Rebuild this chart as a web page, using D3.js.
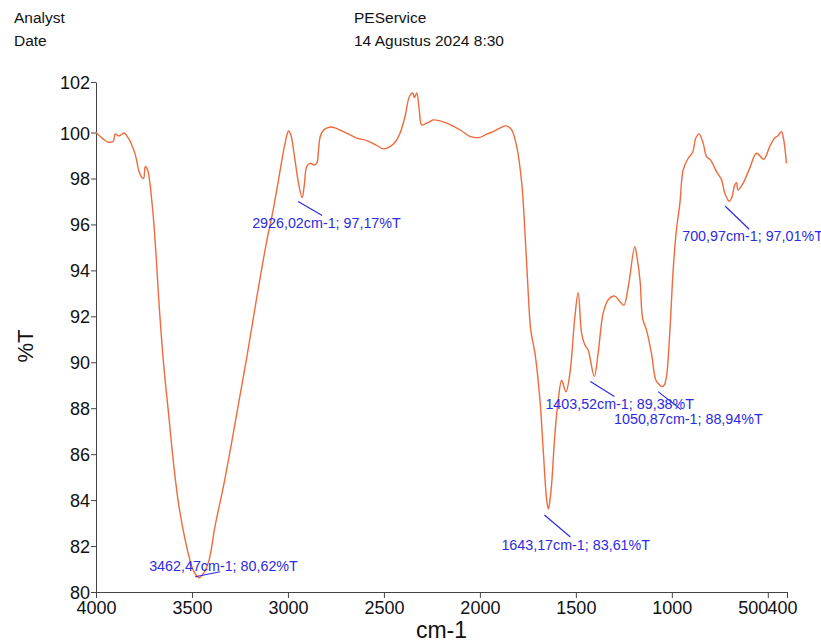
<!DOCTYPE html>
<html>
<head>
<meta charset="utf-8">
<script src="https://cdn.jsdelivr.net/npm/d3@7"></script>
<style>
  body { margin: 0; background: #fff; }
  svg { display: block; font-family: "Liberation Sans", Arial, sans-serif; }
</style>
</head>
<body>
<svg id="chart" width="821" height="642"></svg>
<script>
// header text
const headerLeft = ["Analyst", "Date"];
const headerRight = ["PEService", "14 Agustus 2024 8:30"];

// spectrum: wavenumber (cm-1) and %T
const wavenumbers = [
  4000, 3960, 3935, 3910, 3900, 3885, 3877, 3853, 3835, 3821, 3795, 3778, 3762, 3752, 3743, 3731,
  3708, 3696, 3685, 3674, 3648, 3622, 3596, 3570, 3535, 3500, 3480, 3462, 3445, 3414, 3379, 3336,
  3300, 3266, 3214, 3162, 3140, 3110, 3080, 3050, 3023, 3005, 2997, 2985, 2965, 2945, 2926, 2915,
  2902, 2884, 2864, 2850, 2840, 2832, 2815, 2798, 2772, 2740, 2711, 2641, 2589, 2540, 2503, 2468,
  2440, 2416, 2390, 2367, 2350, 2341, 2329, 2316, 2303, 2280, 2260, 2243, 2173, 2100, 2052, 2000,
  1965, 1930, 1869, 1850, 1834, 1808, 1782, 1765, 1748, 1735, 1713, 1687, 1670, 1652, 1643, 1635,
  1626, 1609, 1592, 1574, 1552, 1531, 1505, 1488, 1470, 1453, 1436, 1404, 1384, 1358, 1332, 1297,
  1271, 1250, 1227, 1193, 1180, 1165, 1152, 1132, 1106, 1083, 1062, 1051, 1040, 1028, 1010, 993,
  976, 958, 941, 915, 892, 875, 858, 837, 819, 799, 767, 741, 724, 701, 689, 672,
  663, 655, 629, 594, 559, 521, 490, 464, 447, 429, 417, 403
];
const transmittance = [
  100.0, 99.7, 99.58, 99.62, 99.94, 99.86, 99.86, 99.98, 99.8, 99.6, 99.03, 98.37, 98.05, 98.0, 98.52, 98.37,
  96.92, 95.76, 94.4, 92.85, 89.95, 87.77, 85.59, 83.85, 82.25, 81.09, 80.75, 80.62, 80.75, 81.3, 82.9, 84.6,
  86.2, 87.8, 90.24, 92.85, 93.9, 95.3, 96.5, 97.9, 99.2, 99.9, 100.07, 99.9, 98.9, 97.8, 97.17, 97.7,
  98.52, 98.66, 98.59, 98.66, 99.3, 99.82, 100.1, 100.19, 100.24, 100.15, 100.04, 99.76, 99.65, 99.45, 99.29, 99.39,
  99.6, 99.97, 100.7, 101.57, 101.72, 101.52, 101.72, 100.99, 100.33, 100.4, 100.48, 100.55, 100.41, 100.1, 99.83, 99.79,
  99.93, 100.04, 100.29, 100.25, 100.12, 99.39, 97.8, 95.62, 93.0, 91.4, 90.39, 88.35, 86.17, 84.0, 83.61, 84.0,
  84.72, 86.9, 88.35, 89.22, 88.71, 89.52, 91.98, 93.03, 91.26, 90.75, 90.53, 89.38, 90.39, 92.13, 92.71, 92.88,
  92.64, 92.49, 93.29, 95.03, 94.5, 93.5, 91.9, 91.4, 90.39, 89.22, 89.0, 88.94, 89.0, 89.37, 91.4, 94.02,
  95.76, 96.92, 98.37, 98.88, 99.13, 99.76, 99.94, 99.54, 98.95, 98.81, 98.3, 97.94, 97.36, 97.01, 97.14, 97.72,
  97.82, 97.5, 97.79, 98.45, 99.1, 98.84, 99.39, 99.76, 99.86, 100.04, 99.68, 98.66
];

// peak picks
const peakWavenumbers = [3462.47, 2926.02, 1643.17, 1403.52, 1050.87, 700.97];
const peakValues = [80.62, 97.17, 83.61, 89.38, 88.94, 97.01];
const peakLabels = [
  "3462,47cm-1; 80,62%T", "2926,02cm-1; 97,17%T", "1643,17cm-1; 83,61%T",
  "1403,52cm-1; 89,38%T", "1050,87cm-1; 88,94%T", "700,97cm-1; 97,01%T"
];

// axes
const xTicks = [4000, 3500, 3000, 2500, 2000, 1500, 1000, 500, 400];
const yTicks = [80, 82, 84, 86, 88, 90, 92, 94, 96, 98, 100];
const yMax = 102.2;
const xTitle = "cm-1";
const yTitle = "%T";

// label leader offsets (line start dx,dy / line end dx,dy / text dx,dy)
const labelLayout = [
  [-4, -1, 21, -6, -50, -7],
  [-4, 4, 20, 18, -50, 30],
  [-4, 6, 22, 28, -47, 41],
  [-4, 5, 20, 20, -49, 32],
  [-4, 5, 19, 23, -48, 37],
  [-4, 5, 20, 28, -47, 40]
];

const svg = d3.select("#chart");
const margin = { left: 96, right: 34, top: 82, bottom: 50 };
const W = 821, H = 642;

const x = d3.scaleLinear().domain([4000, 400]).range([margin.left, W - margin.right]);
const y = d3.scaleLinear().domain([80, yMax]).range([H - margin.bottom, margin.top]);

// header
const hdr = svg.append("g").attr("font-size", 15.5).attr("fill", "#111");
headerLeft.forEach((t, i) => hdr.append("text").attr("x", 14).attr("y", 22.5 + i * 23.5).text(t));
headerRight.forEach((t, i) => hdr.append("text").attr("x", 354).attr("y", 22.5 + i * 23.5).text(t));

// axes
const xAxis = d3.axisBottom(x).tickValues(xTicks).tickSize(6).tickSizeOuter(0).tickPadding(3).tickFormat(d3.format("d"));
const yAxis = d3.axisLeft(y).tickValues(yTicks.concat([yMax])).tickSize(5).tickSizeOuter(0).tickPadding(1)
  .tickFormat(d => d3.format(".0f")(d));

const gx = svg.append("g").attr("transform", `translate(0,${y(80)})`).call(xAxis);
const gy = svg.append("g").attr("transform", `translate(${x(4000)},0)`).call(yAxis);
[gx, gy].forEach(g => {
  g.selectAll("path, line").attr("stroke", "#444").attr("stroke-width", 1);
  g.selectAll("text").attr("font-size", 18).attr("fill", "#111")
    .attr("font-family", "'Liberation Sans', Arial, sans-serif");
});
gy.selectAll("text").attr("dy", "0.36em");
// the last two labels sit side by side, as in the original print
gx.selectAll(".tick").filter(d => d === 500).select("text").attr("text-anchor", "end").attr("dx", 0);
gx.selectAll(".tick").filter(d => d === 400).select("text").attr("text-anchor", "start").attr("dx", -20);

svg.append("text").attr("x", (x(4000) + x(400)) / 2).attr("y", 638)
  .attr("text-anchor", "middle").attr("font-size", 23).attr("fill", "#111").text(xTitle);
svg.append("text").attr("transform", `translate(33,${(y(80) + y(yMax)) / 2 + 9}) rotate(-90)`)
  .attr("text-anchor", "middle").attr("font-size", 22).attr("fill", "#111").text(yTitle);

// spectrum line
const pts = wavenumbers.map((w, i) => [w, transmittance[i]]);
const line = d3.line().x(d => x(d[0])).y(d => y(d[1])).curve(d3.curveCatmullRom.alpha(0.5));
svg.append("path").datum(pts).attr("d", line)
  .attr("fill", "none").attr("stroke", "#ef6a3c").attr("stroke-width", 1.4);

// peak annotations
const blue = "#2b2be0";
peakWavenumbers.forEach((w, i) => {
  const px = x(w), py = y(peakValues[i]);
  const L = labelLayout[i];
  svg.append("line")
    .attr("x1", px + L[0]).attr("y1", py + L[1])
    .attr("x2", px + L[2]).attr("y2", py + L[3])
    .attr("stroke", blue).attr("stroke-width", 1.2);
  svg.append("text").attr("x", px + L[4]).attr("y", py + L[5])
    .attr("font-size", 14.3).attr("fill", blue).text(peakLabels[i]);
});
</script>
</body>
</html>
